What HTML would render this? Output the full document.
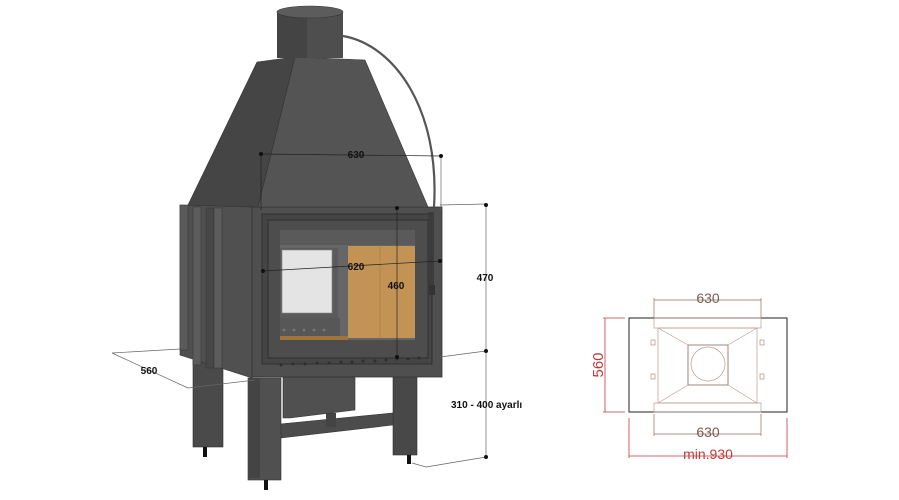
<!DOCTYPE html>
<html><head><meta charset="utf-8"><style>
html,body{margin:0;padding:0;background:#fff;}
svg{display:block;}
text{font-family:"Liberation Sans",sans-serif;}
</style></head><body>
<svg width="899" height="500" viewBox="0 0 899 500" xmlns="http://www.w3.org/2000/svg">
<rect x="193" y="360" width="30" height="87" fill="#4a4a4a" stroke="#333" stroke-width="0.6"/>
<rect x="203" y="447" width="4" height="10" fill="#111"/>
<rect x="393" y="370" width="24" height="85" fill="#484848" stroke="#333" stroke-width="0.6"/>
<rect x="407" y="455" width="4" height="9" fill="#111"/>
<polygon points="280,424 393,413 393,425 280,438" fill="#4c4c4c" stroke="#333" stroke-width="0.6"/>
<rect x="326" y="413" width="10" height="14" fill="#444"/>
<polygon points="283,377 355,377 355,410 290,418 283,418" fill="#505050" stroke="#333" stroke-width="0.6"/>
<rect x="248" y="378" width="33" height="102" fill="#505050" stroke="#333" stroke-width="0.6"/>
<rect x="248" y="378" width="12" height="100" fill="#444"/>
<rect x="264" y="480" width="4" height="10" fill="#111"/>
<polygon points="180,205 252,207 252,378 180,355" fill="#505050" stroke="#333" stroke-width="0.6"/>
<rect x="180" y="205" width="8" height="145" fill="#5a5a5a" stroke="#333" stroke-width="0.5"/>
<rect x="193" y="207" width="8" height="158" fill="#5c5c5c" stroke="#333" stroke-width="0.5"/>
<rect x="206" y="208" width="8" height="160" fill="#474747" stroke="#333" stroke-width="0.5"/>
<rect x="214" y="208" width="8" height="160" fill="#5c5c5c" stroke="#333" stroke-width="0.5"/>
<rect x="252" y="207" width="190" height="170" fill="#4f4f4f" stroke="#333" stroke-width="0.8"/>
<rect x="262" y="214" width="170" height="150" fill="#454545" stroke="#2a2a2a" stroke-width="0.8"/>
<rect x="268" y="220" width="160" height="138" fill="#4d4d4d" stroke="#2a2a2a" stroke-width="0.8"/>
<rect x="280" y="230" width="135" height="110" fill="#5a5a5a"/>
<rect x="280" y="245" width="135" height="95" fill="#666"/>
<rect x="280" y="248" width="58" height="70" fill="#5b5b5b"/>
<rect x="282" y="250" width="50" height="63" fill="#e4e4e4" stroke="#888" stroke-width="0.6"/>
<rect x="280" y="318" width="60" height="18" fill="#575757"/>
<rect x="348" y="246" width="67" height="92" fill="#c29354"/>
<line x1="380" y1="246" x2="380" y2="338" stroke="#a87a40" stroke-width="0.6"/>
<rect x="280" y="336" width="68" height="4" fill="#a0753c"/>
<g fill="#777">
<circle cx="284" cy="330" r="1.4"/><circle cx="294" cy="330" r="1.4"/><circle cx="304" cy="330" r="1.4"/><circle cx="314" cy="330" r="1.4"/><circle cx="324" cy="330" r="1.4"/>
</g>
<g fill="#2e2e2e">
<circle cx="281" cy="365" r="1.5"/><circle cx="293" cy="364" r="1.5"/><circle cx="305" cy="364" r="1.5"/><circle cx="317" cy="363" r="1.5"/><circle cx="329" cy="363" r="1.5"/><circle cx="341" cy="362" r="1.5"/><circle cx="352" cy="362" r="1.5"/><circle cx="363" cy="361" r="1.5"/><circle cx="375" cy="361" r="1.5"/><circle cx="386" cy="360" r="1.5"/><circle cx="397" cy="359" r="1.5"/><circle cx="408" cy="359" r="1.5"/><circle cx="419" cy="358" r="1.5"/>
</g>
<rect x="428" y="212" width="6" height="80" fill="#3c3c3c"/>
<rect x="429" y="285" width="6" height="10" fill="#333"/>
<polygon points="257,62 295,57 258,207 188,205" fill="#454545" stroke="#333" stroke-width="0.6"/>
<polygon points="295,57 365,60 428,207 258,207" fill="#545454" stroke="#333" stroke-width="0.6"/>
<rect x="277" y="12" width="66" height="46" fill="#4e4e4e"/>
<rect x="277" y="12" width="30" height="46" fill="#444"/>
<ellipse cx="310" cy="12" rx="33" ry="6" fill="#5c5c5c" stroke="#333" stroke-width="0.6"/>
<path d="M343,36 C395,45 440,110 434,207" fill="none" stroke="#555" stroke-width="2.2"/>
<g stroke="#222" stroke-width="0.7" fill="none">
<line x1="261" y1="154" x2="441" y2="156"/>
<line x1="261" y1="154" x2="261" y2="210"/>
<line x1="263" y1="271" x2="440" y2="261"/>
<line x1="397" y1="208" x2="397" y2="358"/>
</g>
<g stroke="#666" stroke-width="0.7" fill="none">
<line x1="441" y1="156" x2="441" y2="210"/>
<line x1="486" y1="204" x2="486" y2="457"/>
<line x1="440" y1="205" x2="486" y2="204"/>
<line x1="440" y1="357" x2="486" y2="351"/>
<line x1="412" y1="463" x2="426" y2="467"/>
<line x1="426" y1="467" x2="486" y2="457"/>
<line x1="112" y1="353" x2="180" y2="349"/>
<line x1="112" y1="353" x2="188" y2="388"/>
<line x1="188" y1="388" x2="255" y2="380"/>
</g>
<g fill="#111">
<circle cx="261" cy="154" r="2"/><circle cx="441" cy="156" r="2"/><circle cx="263" cy="271" r="2"/><circle cx="440" cy="261" r="2"/>
<circle cx="397" cy="208" r="2"/><circle cx="397" cy="357" r="2"/>
<circle cx="486" cy="205" r="2"/><circle cx="486" cy="351" r="2"/><circle cx="486" cy="457" r="2"/>
</g>
<g font-size="10" font-weight="bold" fill="#111">
<text x="356" y="158" text-anchor="middle">630</text>
<text x="356" y="270" text-anchor="middle">620</text>
<text x="396" y="289" text-anchor="middle">460</text>
<text x="485" y="281" text-anchor="middle">470</text>
<text x="451" y="408">310 - 400 ayarlı</text>
<text x="149" y="374" text-anchor="middle">560</text>
</g>
<g fill="none">
<rect x="629" y="318" width="158" height="94" stroke="#222" stroke-width="1"/>
<rect x="654" y="318" width="107" height="10" stroke="#b89a90" stroke-width="0.7"/>
<rect x="654" y="403" width="107" height="9" stroke="#b89a90" stroke-width="0.7"/>
<rect x="658" y="328" width="99" height="75" stroke="#b89a90" stroke-width="0.7"/>
<rect x="688" y="345" width="40" height="40" stroke="#8a6a60" stroke-width="0.8"/>
<circle cx="708" cy="364" r="17" stroke="#b89a90" stroke-width="0.7"/>
<line x1="658" y1="328" x2="688" y2="345" stroke="#b89a90" stroke-width="0.6"/>
<line x1="757" y1="328" x2="728" y2="345" stroke="#b89a90" stroke-width="0.6"/>
<line x1="658" y1="403" x2="688" y2="385" stroke="#b89a90" stroke-width="0.6"/>
<line x1="757" y1="403" x2="728" y2="385" stroke="#b89a90" stroke-width="0.6"/>
<rect x="651" y="340" width="4" height="5" stroke="#a08070" stroke-width="0.6"/>
<rect x="651" y="374" width="4" height="5" stroke="#a08070" stroke-width="0.6"/>
<rect x="760" y="340" width="4" height="5" stroke="#a08070" stroke-width="0.6"/>
<rect x="760" y="374" width="4" height="5" stroke="#a08070" stroke-width="0.6"/>
<g stroke="#9a6a60" stroke-width="0.7">
<line x1="654" y1="300" x2="761" y2="300"/><line x1="654" y1="298" x2="654" y2="318"/><line x1="761" y1="298" x2="761" y2="318"/>
<line x1="654" y1="434" x2="761" y2="434"/><line x1="654" y1="414" x2="654" y2="436"/><line x1="761" y1="414" x2="761" y2="436"/>
</g>
<g stroke="#c0393a" stroke-width="0.8">
<line x1="605" y1="318" x2="605" y2="412"/><line x1="603" y1="318" x2="625" y2="318"/><line x1="603" y1="412" x2="625" y2="412"/>
<line x1="629" y1="456" x2="787" y2="456"/><line x1="629" y1="418" x2="629" y2="458"/><line x1="787" y1="418" x2="787" y2="458"/>
</g>
</g>
<g font-size="14" fill="#7a5a55" text-anchor="middle">
<text x="708" y="303">630</text>
<text x="708" y="437">630</text>
</g>
<text x="708" y="459" font-size="14" fill="#c0393a" text-anchor="middle">min.930</text>
<text x="603" y="365" font-size="15" fill="#c0393a" text-anchor="middle" transform="rotate(-90 603 365)">560</text>
</svg>
</body></html>
